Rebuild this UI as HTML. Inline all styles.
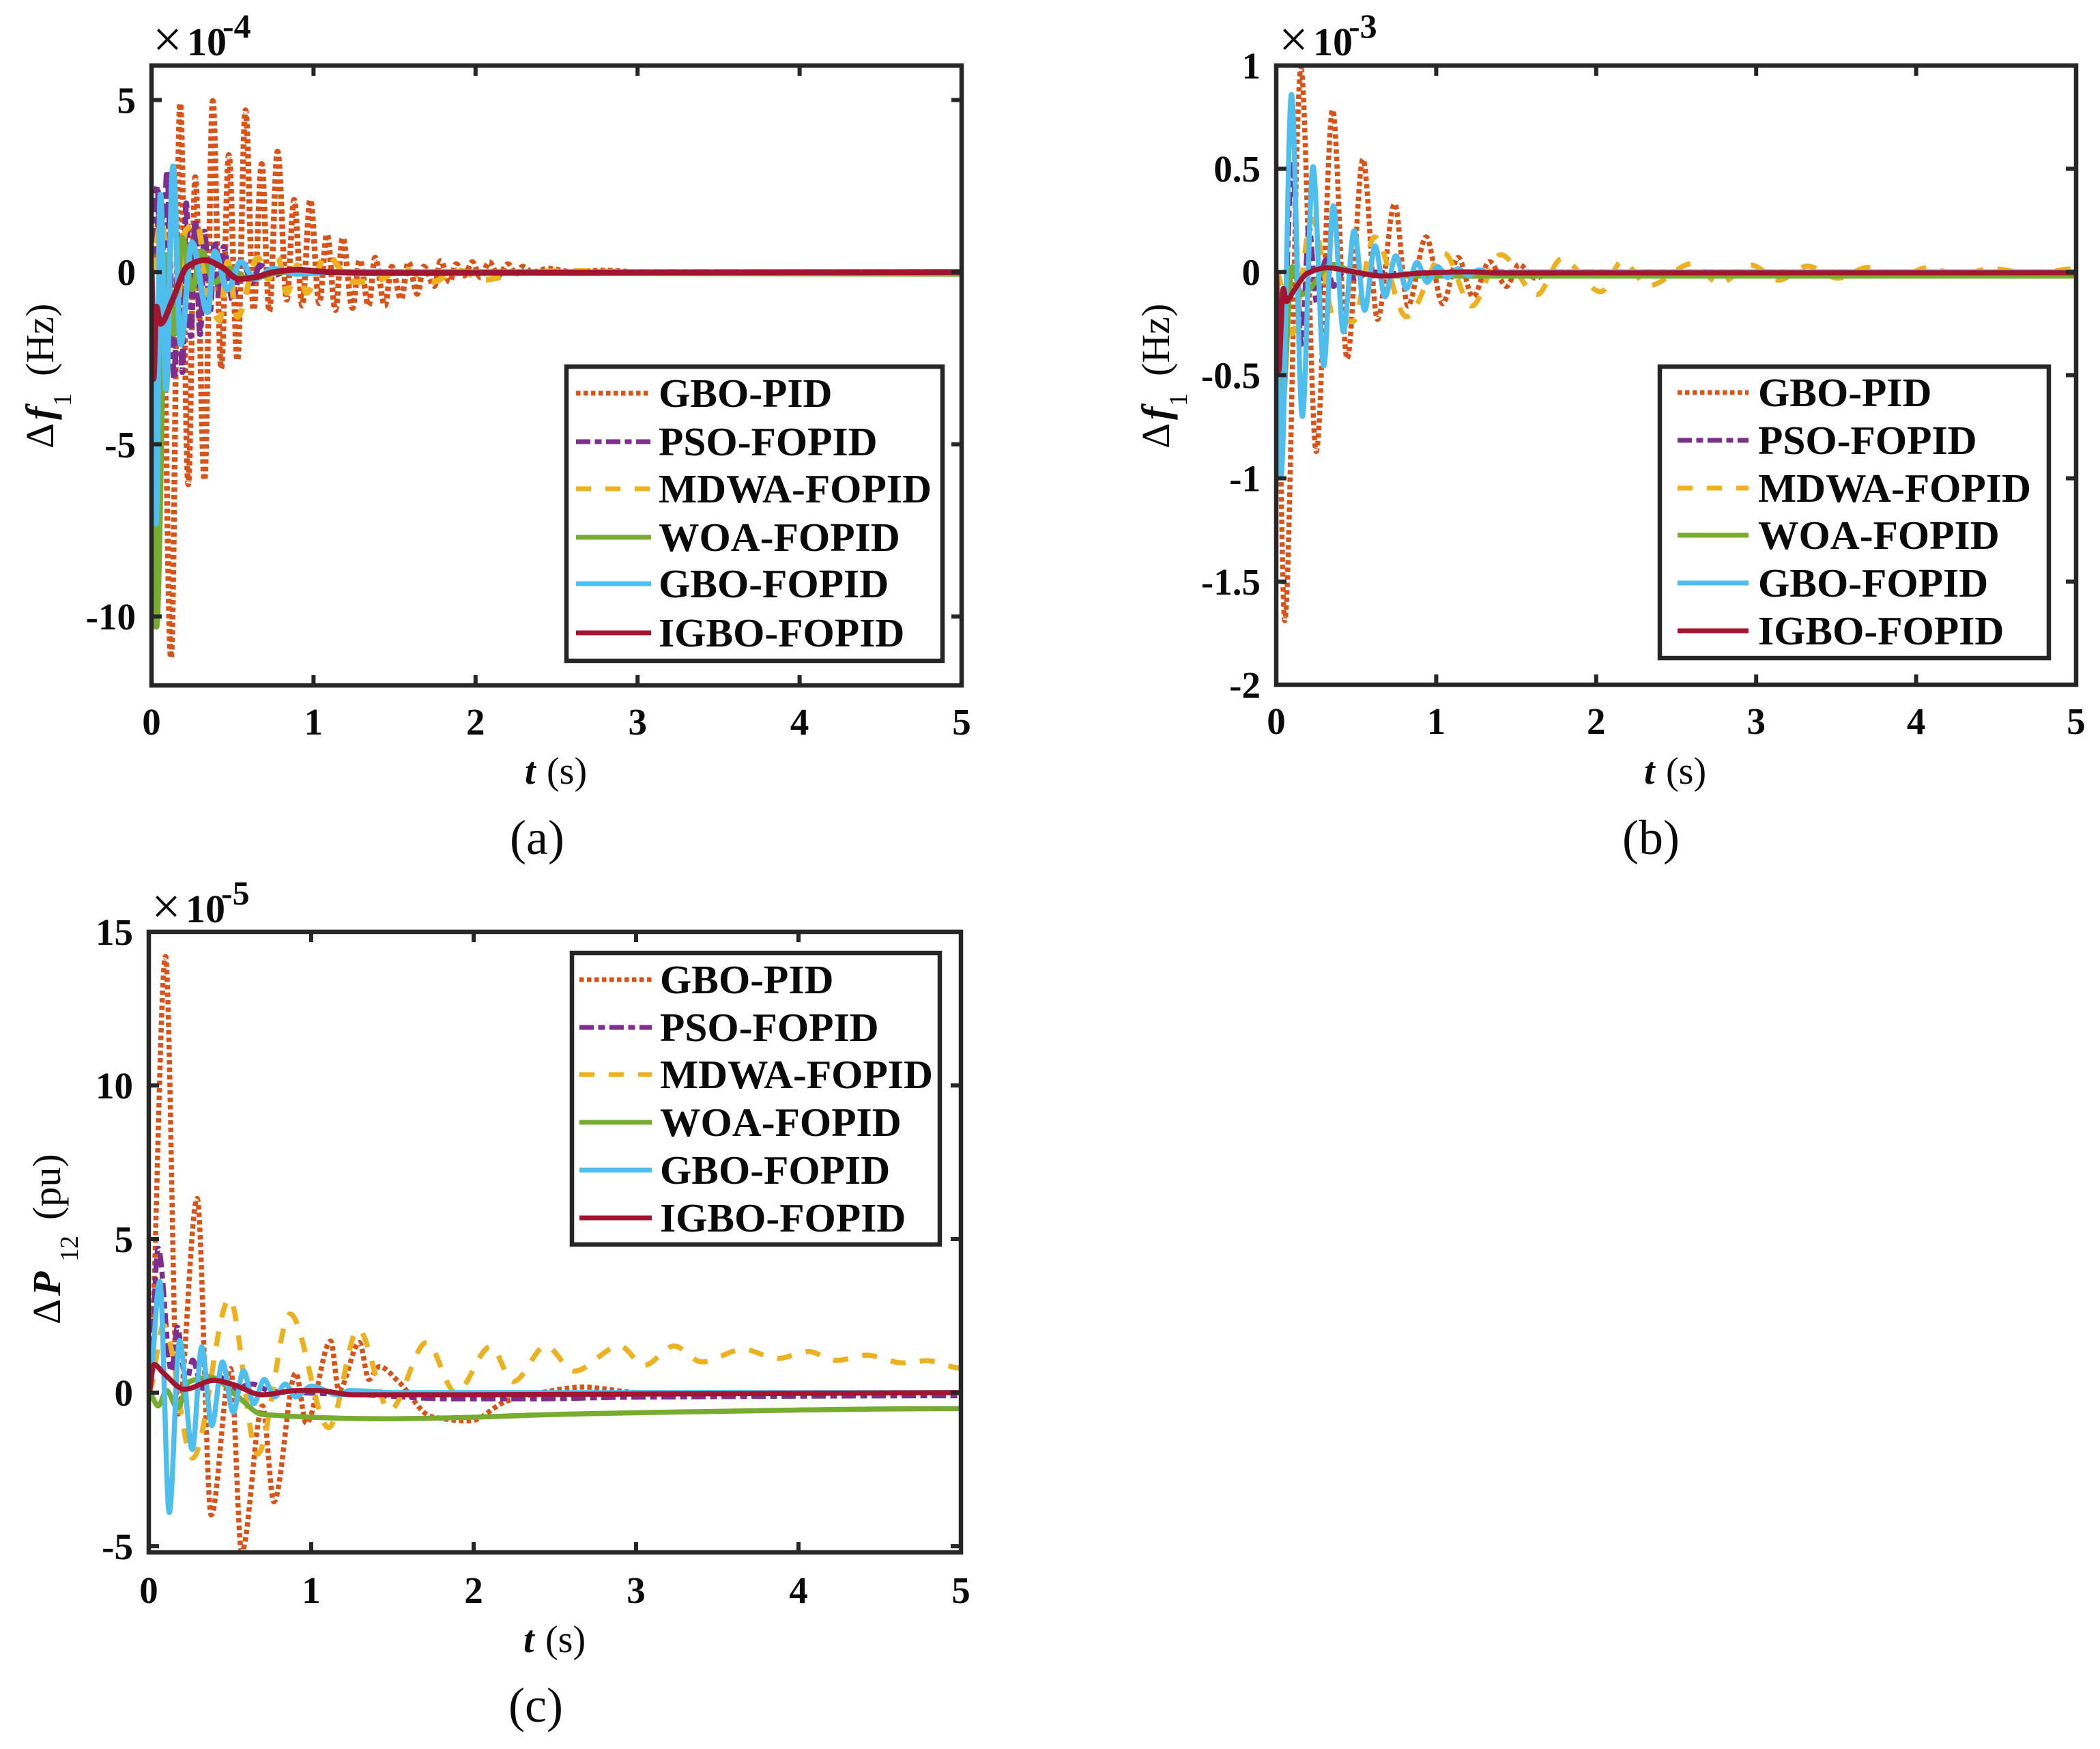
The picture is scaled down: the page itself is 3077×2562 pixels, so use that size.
<!DOCTYPE html>
<html lang="en">
<head>
<meta charset="utf-8">
<title>Frequency and tie-line deviation responses</title>
<style>
html,body{margin:0;padding:0;background:#fff;}
svg{display:block;font-family:"Liberation Serif",serif;}
</style>
</head>
<body>
<svg id="figure" xmlns="http://www.w3.org/2000/svg" width="3077" height="2562" viewBox="0 0 3077 2562"></svg>
<script>
// ---------- shared labels and ticks ----------
const seriesNames = ["GBO-PID","PSO-FOPID","MDWA-FOPID","WOA-FOPID","GBO-FOPID","IGBO-FOPID"];
const xTicks = [0,1,2,3,4,5];
const yTicksA = [-10,-5,0,5];
const yTicksB = [-2,-1.5,-1,-0.5,0,0.5,1];
const yTicksC = [-5,0,5,10,15];

// ---------- panel (a): delta f1, x 1e-4 Hz ----------
const tA_gboPid = [0,.06,.12,.177,.227,.27,.327,.378,.43,.477,.53,.58,.63,.68,.727,.778,.835,.88,.93,.98,1.035,1.083,1.135,1.18,1.24,1.285,1.34,1.38,1.44,1.483,1.54,1.586,1.64,1.68,1.746,1.784,1.84,1.88,1.93,1.98,2.03,2.085,2.14,2.2,2.25,2.29,2.35,2.45,2.6,2.8,3,5];
const vA_gboPid = [0,2,-11.2,4.9,-6.16,2.76,-6.04,4.97,-2.8,3.4,-2.56,4.7,-1.1,3.14,-1.14,3.5,-.8,2.1,-.97,2.1,-.9,1.1,-1.1,1,-1.04,.35,-.97,.42,-.97,.16,-.78,.29,-.63,.16,-.4,.32,-.28,.23,-.1,.29,-.15,.29,-.1,.23,-.05,.16,0,.1,0,.05,0,0];
const tA_pso = [0,.036,.066,.096,.14,.168,.19,.214,.242,.27,.3,.327,.36,.39,.42,.445,.5,.56,.62,.67,.74,.85,1,5];
const vA_pso = [0,2.5,-1.5,2.95,-3.1,1,-2.9,2,-1.86,1.5,-1.8,1.18,-1.2,.9,-.8,.73,-.8,.35,-.3,.2,-.1,.05,0,0];
const tA_mdwa = [0,.06,.14,.21,.28,.35,.42,.47,.53,.656,.72,.78,.835,.9,.957,1.08,1.24,1.37,1.55,1.73,1.9,2.05,2.3,2.6,3,5];
const vA_mdwa = [0,1.5,-1.8,1.2,1.43,-.6,-1.4,.3,-1.3,.42,-.2,.42,-.6,.2,-.6,.5,-.28,-.28,.1,-.28,.05,-.22,0,.03,0,0];
const tA_woa = [0,.03,.09,.14,.19,.25,.31,.39,.48,.6,.8,5];
const vA_woa = [0,-10.3,.5,-1.8,1,-.5,.6,-.3,.1,-.2,0,-.05];
const tA_gboF = [0,.028,.055,.09,.133,.18,.25,.345,.39,.47,.55,.64,.75,.9,1.1,5];
const vA_gboF = [0,-7.3,2.25,-3.4,3.07,-2.1,.86,-1.16,.6,-.5,.3,-.2,.1,-.05,0,0];
const tA_igbo = [0,.012,.03,.055,.13,.22,.327,.43,.54,.64,.75,.9,1.1,1.39,5];
const vA_igbo = [0,-3.1,-1,-1.5,-.8,.16,.35,.16,-.2,-.15,0,.07,0,-.02,0];

// ---------- panel (b): delta f1, x 1e-3 Hz ----------
const tB_gboPid = [0,.053,.154,.25,.352,.443,.542,.633,.74,.823,.937,1.04,1.137,1.23,1.333,1.44,1.517,1.62,1.717,5];
const vB_gboPid = [0,-1.69,.985,-.87,.785,-.42,.546,-.23,.33,-.165,.17,-.154,.07,-.12,.05,-.07,.036,-.03,0,0];
const tB_pso = [0,.03,.1,.158,.205,.253,.31,.357,.43,.49,.6,.8,1,5];
const vB_pso = [0,-.64,.52,-.35,.22,-.15,.06,-.07,.01,-.03,0,-.01,0,0];
const tB_mdwa = [0,.1,.224,.367,.48,.614,.814,1.05,1.222,1.403,1.63,1.783,2.03,2.16,2.33,2.6,2.77,2.97,3.14,3.32,3.51,3.7,3.9,4.07,4.28,4.46,4.75,4.96,5];
const vB_mdwa = [0,-.3,.257,-.23,-.24,.17,-.217,.09,-.165,.084,-.11,.063,-.096,.05,-.066,.04,-.055,.033,-.04,.028,-.03,.022,-.02,.02,-.015,.016,-.01,.014,.01];
const tB_woa = [0,.034,.1,.158,.348,.5,.7,5];
const vB_woa = [0,-.7,.025,-.11,.036,-.005,-.02,-.02];
const tB_gboF = [0,.03,.095,.163,.23,.297,.357,.42,.487,.553,.618,.68,.747,.814,.88,.943,1.01,1.07,1.137,1.2,1.27,1.336,1.5,5];
const vB_gboF = [0,-.987,.86,-.7,.51,-.455,.32,-.29,.2,-.186,.127,-.12,.078,-.08,.046,-.05,.025,-.027,.015,-.017,.01,-.006,0,0];
const tB_igbo = [0,.015,.044,.063,.11,.196,.32,.46,.67,.9,1.2,1.4,5];
const vB_igbo = [0,-.48,-.08,-.143,-.09,-.006,.02,.004,-.02,-.006,0,-.005,-.004];

// ---------- panel (c): delta P12, x 1e-5 pu ----------
const tC_gboPid = [0,.103,.18,.298,.384,.504,.572,.70,.77,.905,.97,1.12,1.17,1.297,1.355,1.42,1.537,1.74,1.976,2.2,2.415,2.67,3.03,5];
const vC_gboPid = [0,14.2,-.7,6.32,-3.98,.78,-5.18,-.43,-3.55,.64,-1,1.68,.07,1.63,.43,.85,.36,-.78,-.92,-.28,0,.18,0,0];
const tC_pso = [0,.058,.14,.176,.23,.27,.33,.4,.53,.636,.75,1.32,1.86,2.4,2.93,5];
const vC_pso = [0,4.7,.7,2.13,.3,1.06,.14,.64,.14,.28,.05,-.07,-.2,-.2,-.15,-.1];
const tC_mdwa = [0,.09,.27,.497,.67,.87,1.108,1.29,1.483,1.71,1.89,2.105,2.244,2.445,2.617,2.9,3.05,3.234,3.405,3.66,3.87,4.06,4.23,4.42,4.64,4.79,5];
const vC_mdwa = [0,2.2,-2.13,3.05,-2,2.56,-1.14,2.06,-.57,1.63,0,1.5,.36,1.52,.7,1.52,.89,1.52,1,1.41,1.11,1.34,1.05,1.22,.97,1.04,.8];
const tC_woa = [0,.058,.11,.176,.25,.38,.55,.7,1.43,1.86,2.44,2.93,5];
const vC_woa = [0,-.43,.07,-.5,.36,.5,-.14,-.71,-.85,-.82,-.72,-.66,-.52];
const tC_gboF = [0,.068,.126,.19,.268,.326,.388,.454,.52,.583,.647,.71,.776,.84,.905,1,1.17,1.237,1.5,5];
const vC_gboF = [0,3.62,-3.9,1.7,-1.85,1.49,-1.07,1,-.64,.71,-.36,.43,-.14,.28,-.14,.21,-.07,.07,0,0];
const tC_igbo = [0,.032,.09,.22,.4,.51,.7,.915,1.04,1.26,2,5];
const vC_igbo = [0,.92,.64,.11,.4,.28,-.07,.07,.07,-.07,-.07,0];

// ---------- line styles per series (order follows seriesNames) ----------
const seriesColors = ["#D95319","#7E2F8E","#EDB120","#77AC30","#4DBEEE","#A2142F"];
const seriesDash = ["6.5 4.5","21 6.5 10 6.5","22 21","","",""];

const SVGNS = "http://www.w3.org/2000/svg";
const INK = "#262626";
const root = document.getElementById("figure");

function el(tag, parent, attrs) {
  const e = document.createElementNS(SVGNS, tag);
  for (const k in attrs) e.setAttribute(k, attrs[k]);
  parent.appendChild(e);
  return e;
}

function monotonePath(xs, ys) {
  const n = xs.length;
  const m = new Array(n).fill(0);
  const d = [];
  for (let i = 0; i < n - 1; i++) d.push((ys[i+1] - ys[i]) / (xs[i+1] - xs[i]));
  for (let i = 1; i < n - 1; i++) {
    if (d[i-1] * d[i] > 0) m[i] = 2 * d[i-1] * d[i] / (d[i-1] + d[i]);
  }
  m[0] = 0;
  m[n-1] = 0;
  let p = "M" + xs[0].toFixed(2) + " " + ys[0].toFixed(2);
  for (let i = 0; i < n - 1; i++) {
    const h = (xs[i+1] - xs[i]) / 3;
    p += "C" + (xs[i] + h).toFixed(2) + " " + (ys[i] + m[i] * h).toFixed(2) + " " +
         (xs[i+1] - h).toFixed(2) + " " + (ys[i+1] - m[i+1] * h).toFixed(2) + " " +
         xs[i+1].toFixed(2) + " " + ys[i+1].toFixed(2);
  }
  return p;
}

function label(parent, name, str, x, y, size, anchor, weight, style) {
  const t = el("text", parent, {x:x, y:y, "font-size":size, "text-anchor":anchor, "font-weight":weight, "font-style":style, fill:"#0a0a0a"});
  
  
  t.textContent = str;
  return t;
}

function drawPanel(cfg) {
  const g = el("g", root, {});
  
  

  const X = t => cfg.left + (t - 0) / (5 - 0) * (cfg.right - cfg.left);
  const Y = v => cfg.bottom - (v - cfg.yMin) / (cfg.yMax - cfg.yMin) * (cfg.bottom - cfg.top);

  const clipId = "clip-" + cfg.id;
  const defs = el("defs", g, {});
  const cp = el("clipPath", defs, {id: clipId});
  el("rect", cp, {x:cfg.left, y:cfg.top, width:cfg.right - cfg.left, height:cfg.bottom - cfg.top});

  const lines = el("g", g, {"clip-path":"url(#" + clipId + ")"});
  
  
  cfg.series.forEach((s, i) => {
    const attrs = {d: monotonePath(s[0].map(X), s[1].map(Y)), fill:"none", stroke:seriesColors[i], "stroke-width":cfg.lineWidth, "stroke-linejoin":"round"};
    if (seriesDash[i]) attrs["stroke-dasharray"] = seriesDash[i];
    const line = el("path", lines, attrs);
    
    
  });

  const frame = el("rect", g, {x:cfg.left, y:cfg.top, width:cfg.right - cfg.left, height:cfg.bottom - cfg.top, fill:"none", stroke:INK, "stroke-width":6.5});
  
  

  const TL = 15;
  xTicks.forEach(t => {
    const x = X(t);
    const tick = el("path", g, {d:"M"+x+" "+cfg.bottom+"V"+(cfg.bottom-TL)+"M"+x+" "+cfg.top+"V"+(cfg.top+TL), stroke:INK, "stroke-width":6, fill:"none"});
    
    
    label(g, "x-tick-label", String(t), x, cfg.bottom + cfg.xTickOffset, 55, "middle", "bold", "normal");
  });
  cfg.yTicks.forEach(v => {
    const y = Y(v);
    const tick = el("path", g, {d:"M"+cfg.left+" "+y+"H"+(cfg.left+TL)+"M"+cfg.right+" "+y+"H"+(cfg.right-TL), stroke:INK, "stroke-width":6, fill:"none"});
    
    
    label(g, "y-tick-label", String(v), cfg.yLabelRight, y + 19, 55, "end", "bold", "normal");
  });

  // exponent multiplier
  label(g, "exponent-times", "\u00D7", cfg.expX - 4, cfg.expBase + 2, 76, "start", "normal", "normal");
  label(g, "exponent-base", "10", cfg.expX + 46, cfg.expBase, 58, "start", "bold", "normal");
  label(g, "exponent-power", cfg.exp, cfg.expX + 98, cfg.expBase - 26, 50, "start", "bold", "normal");

  // x axis title
  label(g, "x-axis-title-t", "t", cfg.xTitleX, cfg.xTitleY, 56, "start", "bold", "italic");
  label(g, "x-axis-title-unit", "(s)", cfg.xTitleX + 32, cfg.xTitleY, 56, "start", "normal", "normal");

  // y axis title, rotated
  const yt = el("g", g, {transform:"translate(" + cfg.yTitleX + " " + cfg.yTitleY + ") rotate(-90)"});
  
  
  label(yt, "y-title-delta", "\u0394", 0, 0, 58, "start", "normal", "normal");
  label(yt, "y-title-symbol", cfg.ySym, 42, 0, 58, "start", "bold", "italic");
  label(yt, "y-title-subscript", cfg.ySub, cfg.ySubX, 26, 38, "start", "normal", "normal");
  label(yt, "y-title-unit", cfg.yUnit, cfg.yUnitX, 0, 58, "start", "normal", "normal");

  // legend
  const L = cfg.legend;
  const lg = el("g", g, {});
  
  
  const box = el("rect", lg, {x:L.x0, y:L.y0, width:L.x1 - L.x0, height:L.y1 - L.y0, fill:"#fff", stroke:INK, "stroke-width":6.5});
  
  
  seriesNames.forEach((name, i) => {
    const y = L.rows[i];
    const attrs = {d:"M"+L.sx0+" "+y+"H"+L.sx1, stroke:seriesColors[i], "stroke-width":7, fill:"none"};
    if (seriesDash[i]) attrs["stroke-dasharray"] = seriesDash[i];
    const sample = el("path", lg, attrs);
    
    
    label(lg, "legend-entry", name, L.tx, y + 20, 59.5, "start", "bold", "normal");
  });

  label(g, "panel-caption", cfg.caption, cfg.capX, cfg.capY, 72, "middle", "normal", "normal");
}

drawPanel({
  id:"a", left:222, right:1409, top:96, bottom:1004, yMin:-12, yMax:6, yTicks:yTicksA, lineWidth:8.5,
  xTickOffset:72, yLabelRight:199, exp:"-4", expX:228, expBase:81,
  xTitleX:769, xTitleY:1148, yTitleX:78, yTitleY:657, ySym:"f", ySub:"1", ySubX:62, yUnit:"(Hz)", yUnitX:106,
  caption:"(a)", capX:787, capY:1251,
  series:[[tA_gboPid,vA_gboPid],[tA_pso,vA_pso],[tA_mdwa,vA_mdwa],[tA_woa,vA_woa],[tA_gboF,vA_gboF],[tA_igbo,vA_igbo]],
  legend:{x0:830,x1:1381,y0:537,y1:968,sx0:844,sx1:954,tx:965,rows:[576,647,716,787,855,927]}
});
drawPanel({
  id:"b", left:1870, right:3042, top:96, bottom:1003, yMin:-2, yMax:1, yTicks:yTicksB, lineWidth:7.5,
  xTickOffset:72, yLabelRight:1847, exp:"-3", expX:1878, expBase:81,
  xTitleX:2409, xTitleY:1148, yTitleX:1713, yTitleY:657, ySym:"f", ySub:"1", ySubX:62, yUnit:"(Hz)", yUnitX:106,
  caption:"(b)", capX:2419, capY:1251,
  series:[[tB_gboPid,vB_gboPid],[tB_pso,vB_pso],[tB_mdwa,vB_mdwa],[tB_woa,vB_woa],[tB_gboF,vB_gboF],[tB_igbo,vB_igbo]],
  legend:{x0:2432,x1:3002,y0:537,y1:964,sx0:2458,sx1:2562,tx:2576,rows:[575,645,715,784,854,924]}
});
drawPanel({
  id:"c", left:218, right:1408, top:1365, bottom:2274, yMin:-5.2, yMax:15, yTicks:yTicksC, lineWidth:7.5,
  xTickOffset:74, yLabelRight:195, exp:"-5", expX:226, expBase:1351,
  xTitleX:767, xTitleY:2420, yTitleX:88, yTitleY:1940, ySym:"P", ySub:"12", ySubX:92, yUnit:"(pu)", yUnitX:153,
  caption:"(c)", capX:785, capY:2522,
  series:[[tC_gboPid,vC_gboPid],[tC_pso,vC_pso],[tC_mdwa,vC_mdwa],[tC_woa,vC_woa],[tC_gboF,vC_gboF],[tC_igbo,vC_igbo]],
  legend:{x0:838,x1:1377,y0:1396,y1:1823,sx0:849,sx1:955,tx:967,rows:[1435,1505,1574,1644,1714,1784]}
});
</script>
</body>
</html>
